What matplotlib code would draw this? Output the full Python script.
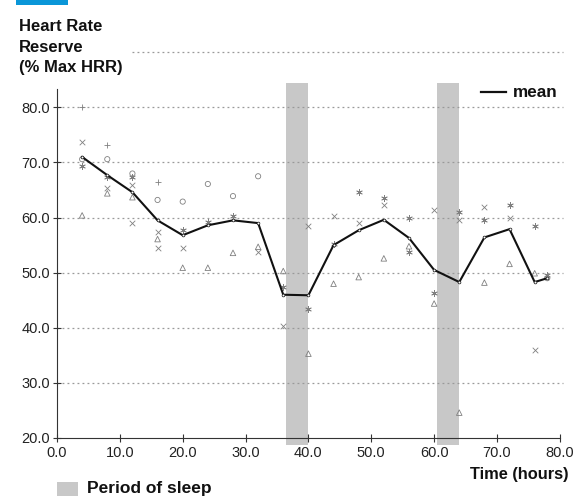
import matplotlib.pyplot as plt
from matplotlib.patches import Rectangle

plt.rcParams['font.family'] = ['Liberation Sans', 'DejaVu Sans']

# mean heart rate reserve
mean_hours = [4, 8, 12, 16, 20, 24, 28, 32, 36, 40, 44, 48, 52, 56, 60, 64, 68, 72, 76, 78]
mean_hrr = [71.0, 67.7, 64.6, 59.5, 56.8, 58.6, 59.5, 59.0, 46.0, 45.9,
            55.0, 57.7, 59.6, 56.3, 50.5, 48.3, 56.4, 57.9, 48.3, 49.0]

# individual subjects (one marker style each)
plus_hours = [4, 8, 16]
plus_hrr = [80.0, 73.1, 66.4]

circle_hours = [4, 8, 12, 16, 20, 24, 28, 32, 78]
circle_hrr = [70.6, 70.6, 68.0, 63.2, 62.9, 66.1, 63.9, 67.5, 49.0]

cross_hours = [4, 8, 12, 12, 16, 16, 20, 32, 36, 40, 44, 48, 52, 60, 64, 68, 72, 76]
cross_hrr = [73.7, 65.3, 65.9, 59.0, 57.4, 54.5, 54.5, 53.8, 40.3, 58.4,
             60.3, 59.0, 62.3, 61.3, 59.6, 62.0, 60.0, 36.0]

star_hours = [4, 8, 12, 20, 24, 28, 36, 40, 44, 48, 52, 56, 56, 60, 64, 68, 72, 76, 78]
star_hrr = [69.3, 67.3, 67.3, 57.7, 59.2, 60.3, 47.4, 43.4, 55.2, 64.6,
            63.5, 60.0, 53.8, 46.4, 61.1, 59.5, 62.3, 58.4, 49.5]

tri_hours = [4, 8, 12, 16, 20, 24, 28, 32, 36, 40, 44, 48, 52, 56, 60, 64, 68, 72, 76]
tri_hrr = [60.4, 64.4, 63.7, 56.1, 50.9, 50.9, 53.6, 54.7, 50.3, 35.3,
           48.0, 49.2, 52.6, 54.8, 44.4, 24.6, 48.2, 51.6, 49.9]

sleep_periods = [(36.5, 40.0), (60.5, 64.0)]
y_ticks = [20, 30, 40, 50, 60, 70, 80]
x_ticks = [0, 10, 20, 30, 40, 50, 60, 70, 80]

fig = plt.figure(figsize=(5.74, 5.04), dpi=100)
ax = fig.add_axes([0.0993, 0.131, 0.876, 0.692])
ax.set_xlim(0, 80)
ax.set_ylim(20, 83.3)

# sleep bands, running a bit past the plot area
for start, end in sleep_periods:
    ax.add_patch(Rectangle((start, 18.7), end - start, 65.8, facecolor='#c8c8c8',
                           edgecolor='none', zorder=0, clip_on=False))

# dotted grid, including the one at 90 behind the axis title
for y in y_ticks[1:] + [90]:
    ax.plot([0, 80.5], [y, y], linestyle=(0, (1.5, 2.5)), color='#999999',
            linewidth=0.9, zorder=1, clip_on=False)

gray = '#808080'
ax.scatter(plus_hours, plus_hrr, marker='+', s=20, color=gray, linewidths=0.6, zorder=3)
ax.scatter(circle_hours, circle_hrr, marker='o', s=14, facecolors='none',
           edgecolors=gray, linewidths=0.6, zorder=3)
ax.scatter(cross_hours, cross_hrr, marker='x', s=16, color=gray, linewidths=0.6, zorder=3)
ax.scatter(star_hours, star_hrr, marker=(6, 2, 0), s=18, color=gray, linewidths=0.6, zorder=3)
ax.scatter(tri_hours, tri_hrr, marker='^', s=16, facecolors='none',
           edgecolors=gray, linewidths=0.6, zorder=3)

ax.plot(mean_hours, mean_hrr, color='#111111', linewidth=1.5, marker='o',
        markersize=2, markerfacecolor='white', markeredgewidth=0.5, zorder=4)

# axes styling
for side in ['top', 'right']:
    ax.spines[side].set_visible(False)
ax.spines['left'].set_color('#333333')
ax.spines['bottom'].set_color('#333333')
ax.set_xticks(x_ticks)
ax.set_xticklabels(['%.1f' % v for v in x_ticks])
ax.set_yticks(y_ticks)
ax.set_yticklabels(['%.1f' % v for v in y_ticks])
ax.tick_params(direction='inout', length=6, width=0.8, colors='#333333',
               labelsize=10.5, labelcolor='#222222', pad=2)
ax.tick_params(axis='x', pad=3)

# axis titles
fig.text(0.033, 0.962, 'Heart Rate\nReserve\n(% Max HRR)', fontsize=12,
         fontweight='bold', va='top', ha='left', linespacing=1.45, color='#111111',
         bbox=dict(facecolor='white', edgecolor='none', pad=5))
fig.text(0.99, 0.043, 'Time (hours)', fontsize=11.8, fontweight='bold',
         ha='right', va='bottom', color='#111111')

# mean legend
fig.add_artist(plt.Line2D([0.838, 0.882], [0.817, 0.817], color='#111111', linewidth=1.6))
fig.text(0.893, 0.817, 'mean', fontsize=12.3, fontweight='bold', va='center', color='#111111')

# sleep legend
fig.add_artist(Rectangle((0.099, 0.016), 0.037, 0.028, facecolor='#c8c8c8', edgecolor='none'))
fig.text(0.152, 0.030, 'Period of sleep', fontsize=12.5, fontweight='bold',
         va='center', color='#111111')

# blue corner tab
fig.add_artist(Rectangle((0.028, 0.990), 0.09, 0.012, facecolor='#0a96d8', edgecolor='none'))

fig.savefig('out.png', dpi=100, facecolor='white')
